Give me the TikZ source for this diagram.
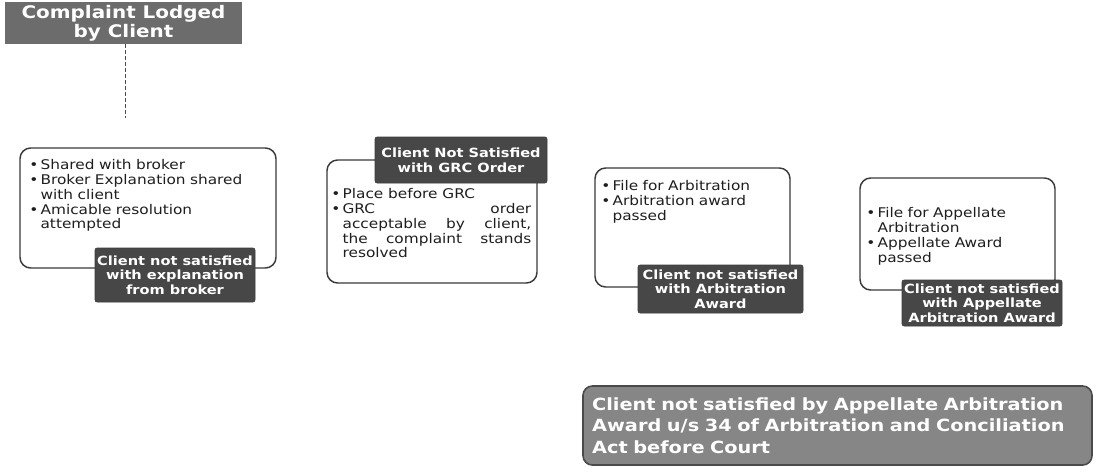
\documentclass[tikz,border=0pt]{standalone}
\usepackage{fontspec}
\setmainfont{DejaVu Sans}[FakeStretch=1.15]

\definecolor{panelline}{HTML}{3A3A3A}
\definecolor{tagfill}{HTML}{474747}
\definecolor{titlefill}{HTML}{6C6C6C}
\definecolor{notefill}{HTML}{868686}
\definecolor{noteline}{HTML}{4A4A4A}
\definecolor{bodytext}{HTML}{1E1E1E}

% bullet item with a hanging indent
\newcommand\bitem[1]{\par\hangindent=8.5pt\hangafter=1\noindent\makebox[8.5pt][l]{\textbullet}#1\par}

\begin{document}
\begin{tikzpicture}[x=0.75pt,y=-0.75pt,
  panel/.style={draw=panelline, line width=1.1pt, rounded corners=8pt, fill=white,
                inner sep=0pt},
  tag/.style={fill=tagfill, draw=tagfill!85!black, rounded corners=1.5pt, text=white,
              font=\bfseries\fontsize{9.5}{11}\selectfont, align=center, inner sep=0pt},
  body/.style={anchor=north west, inner sep=0pt, text=bodytext,
               font=\fontsize{10}{11.2}\selectfont},
  link/.style={draw=black!70, line width=0.6pt, dash pattern=on 3pt off 1.5pt}
]
\useasboundingbox (0,0) rectangle (1099,475);
\fill[white] (0,0) rectangle (1099,475);

% starting point
\node[fill=titlefill, text=white, font=\bfseries\fontsize{13}{14.5}\selectfont,
      align=center, inner sep=0pt, minimum width=177.75pt, minimum height=31.5pt]
  (title) at (123.5,23) {Complaint Lodged\\by Client};
\coordinate (dashend) at (125,118);
\draw[link] (title.south -| dashend) -- (dashend);

% stage panels
\node[panel, minimum width=192pt, minimum height=90pt] (p1) at (148,208) {};
\node[panel, minimum width=157.5pt, minimum height=92.25pt] (p2) at (432,221.5) {};
\node[panel, minimum width=146.25pt, minimum height=89.25pt] (p3) at (692.5,227.5) {};
\node[panel, minimum width=146.25pt, minimum height=84pt] (p4) at (957.5,234) {};

% panel contents
\node[body, text width=185pt, align=left] (t1) at (29,154)
  {\bitem{Shared with broker}
   \bitem{Broker Explanation shared\newline with client}
   \bitem{Amicable resolution\newline attempted}};
\node[body, text width=150pt, align=justify] (t2) at (331,183)
  {\bitem{Place before GRC}
   \bitem{GRC order\linebreak acceptable by client,\linebreak the complaint stands\linebreak resolved}};
\node[body, text width=140pt, align=left] (t3) at (601,175)
  {\bitem{File for Arbitration}
   \bitem{Arbitration award\newline passed}};
\node[body, text width=140pt, align=left] (t4) at (866,202)
  {\bitem{File for Appellate\newline Arbitration}
   \bitem{Appellate Award\newline passed}};

% escalation tags
\node[tag, minimum width=120pt, minimum height=40.5pt] (g1) at (175,275)
  {Client not satisfied\\with explanation\\from broker};
\node[tag, minimum width=129pt, minimum height=34.5pt] (g2) at (461,160)
  {Client Not Satisfied\\with GRC Order};
\node[tag, minimum width=123.75pt, minimum height=36pt] (g3) at (720.5,289)
  {Client not satisfied\\with Arbitration\\Award};
\node[tag, minimum width=120pt, minimum height=34.5pt] (g4) at (982,303)
  {Client not satisfied\\with Appellate\\Arbitration Award};

% final step
\node[fill=notefill, draw=noteline, line width=1.2pt, rounded corners=7pt,
      text=white, font=\bfseries\fontsize{12.6}{16}\selectfont, align=left,
      minimum width=381.75pt, minimum height=59.25pt, text width=368pt, inner xsep=6pt,
      inner ysep=0pt]
  (court) at (837.5,425.5)
  {Client not satisfied by Appellate Arbitration\\Award u/s 34 of Arbitration and Conciliation\\Act before Court};
\end{tikzpicture}
\end{document}
